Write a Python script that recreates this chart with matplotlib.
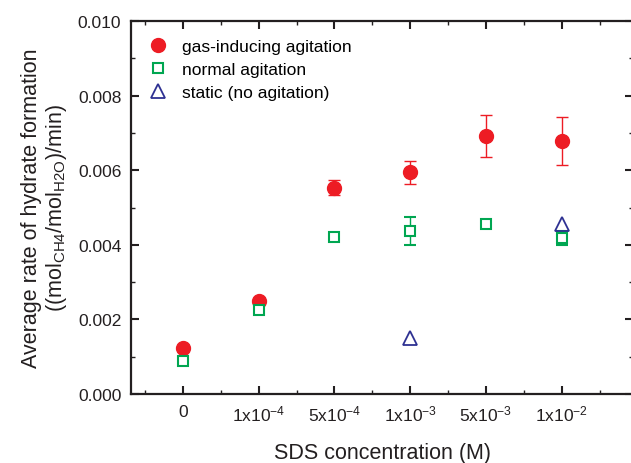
import matplotlib.pyplot as plt
from matplotlib.lines import Line2D
from matplotlib.ticker import MultipleLocator

plt.rcParams['font.family'] = ['Liberation Sans', 'DejaVu Sans']
plt.rcParams['mathtext.default'] = 'regular'

# SDS concentrations (categorical positions)
categories = ['0', '1x10$^{-4}$', '5x10$^{-4}$', '1x10$^{-3}$', '5x10$^{-3}$', '1x10$^{-2}$']

gas_y = [0.00122, 0.00249, 0.00553, 0.00595, 0.00692, 0.00679]
gas_err = [0.00006, 0.00006, 0.00020, 0.00031, 0.00057, 0.00064]

normal_y = [0.00088, 0.00225, 0.00421, 0.00437, 0.00456, 0.00418]
normal_err = [0.00003, 0.00010, 0.00004, 0.00038, 0.00005, 0.00018]

static_idx = [3, 5]
static_y = [0.00150, 0.00456]

red = '#ed1c24'
green = '#00a651'
blue = '#2e3192'
ink = '#231f20'

fig = plt.figure(figsize=(6.31, 4.64), dpi=100)
ax = fig.add_axes([131 / 631, 69 / 464, 502 / 631, 373 / 464])

x = list(range(len(categories)))
ax.errorbar(x, gas_y, yerr=gas_err, fmt='o', color=red, ms=10, capsize=4.5,
            elinewidth=1)
ax.errorbar(x, normal_y, yerr=normal_err, fmt='s', color=green, mfc='white',
            mec=green, mew=1.5, ms=7.5, capsize=4.5, elinewidth=1)
ax.plot(static_idx, static_y, '^', color=blue, mfc='none', mew=1.3, ms=10)

ax.set_xlim(-0.686, 5.94)
ax.set_ylim(0, 0.010)
ax.set_xticks(x)
ax.set_xticklabels(categories)
ax.xaxis.set_minor_locator(MultipleLocator(0.5))
ax.yaxis.set_major_locator(MultipleLocator(0.002))
ax.yaxis.set_minor_locator(MultipleLocator(0.001))
ax.yaxis.set_major_formatter(plt.FormatStrFormatter('%.3f'))

ax.tick_params(which='both', direction='in', top=True, right=True,
               labelsize=12.5, colors=ink)
ax.tick_params(which='major', length=6, width=1.5, pad=7)
ax.tick_params(which='minor', length=3, width=1)
for s in ax.spines.values():
    s.set_linewidth(1.6)
    s.set_color(ink)

ax.set_xlabel('SDS concentration (M)', fontsize=15.5, labelpad=13, color=ink)
ax.set_ylabel('Average rate of hydrate formation\n((mol$_{CH4}$/mol$_{H2O}$)/min)',
              fontsize=15.5, labelpad=6, color=ink, linespacing=1.15)

handles = [
    Line2D([], [], ls='none', marker='o', color=red, ms=10),
    Line2D([], [], ls='none', marker='s', mfc='white', mec=green, mew=1.5, ms=7.5),
    Line2D([], [], ls='none', marker='^', mfc='none', mec=blue, mew=1.3, ms=10),
]
labels = ['gas-inducing agitation', 'normal agitation', 'static (no agitation)']
ax.legend(handles, labels, loc='upper left', bbox_to_anchor=(0.005, 0.99),
          frameon=False, fontsize=12.5, handletextpad=0.8, borderaxespad=0.5,
          labelspacing=0.45, handlelength=1.2, borderpad=0.3)

fig.savefig('out.png', dpi=100)
